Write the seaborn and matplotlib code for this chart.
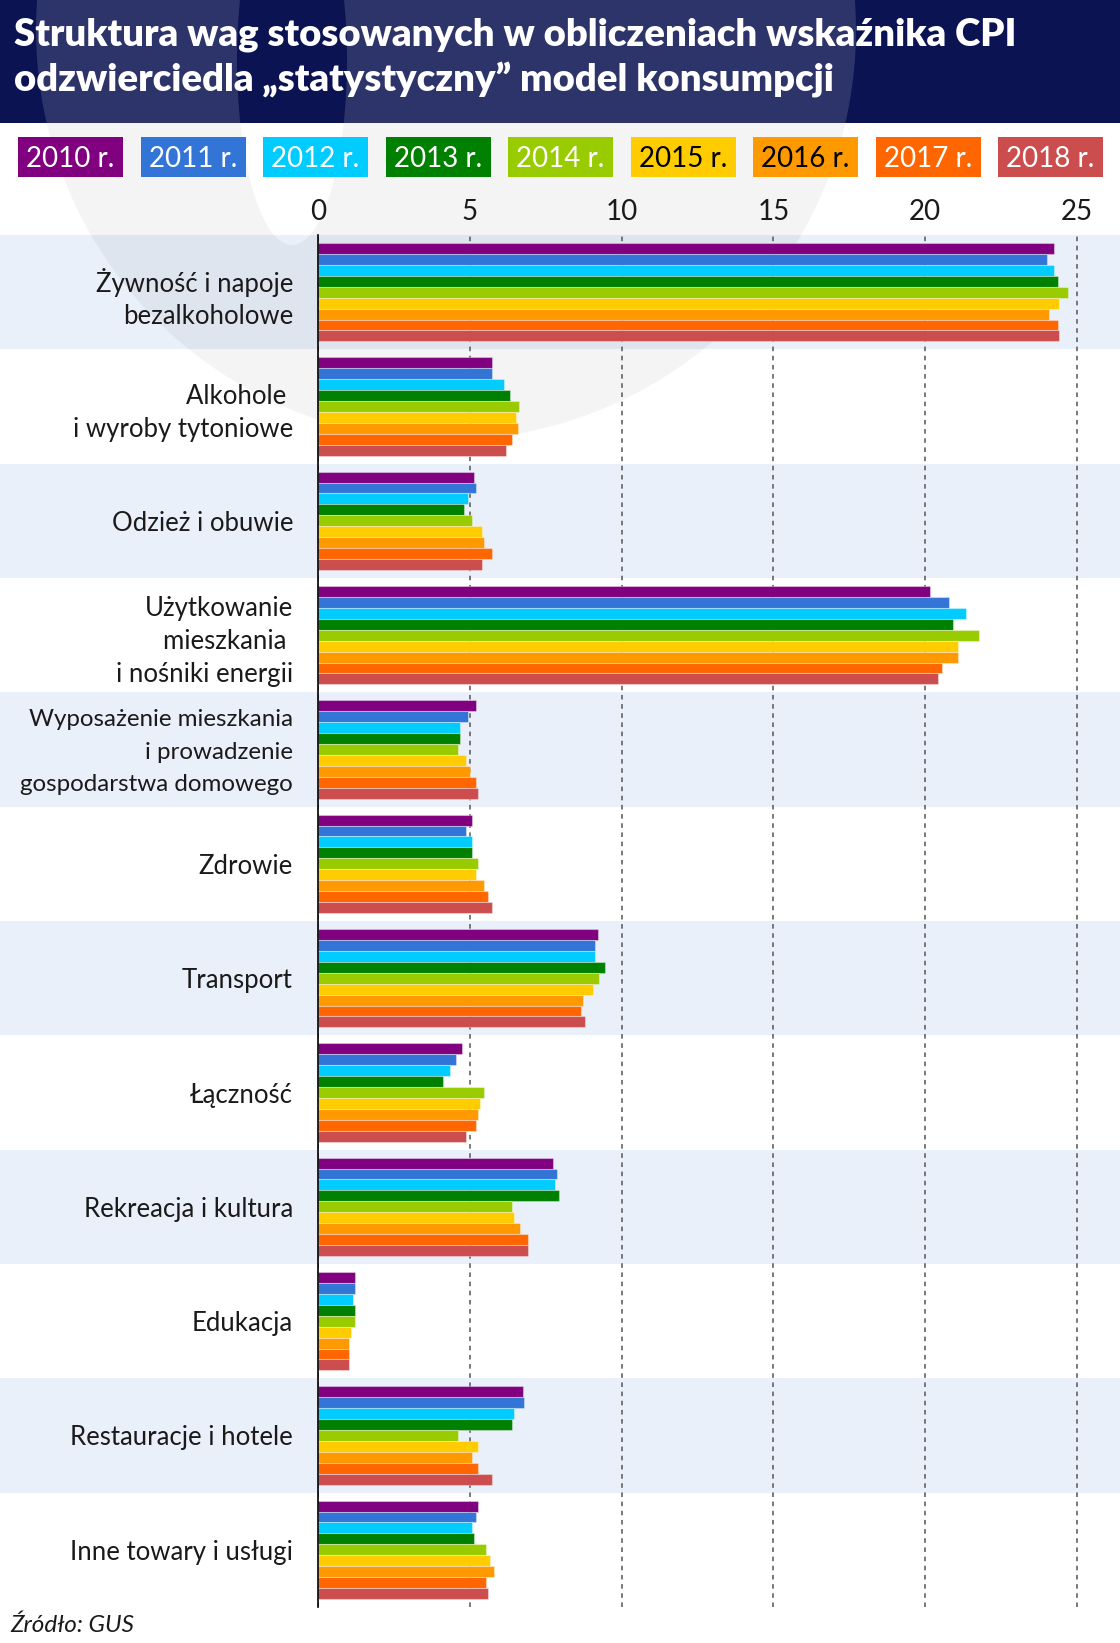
import numpy as np
import pandas as pd
import matplotlib
matplotlib.use("Agg")
import matplotlib.pyplot as plt
import matplotlib.patches as mpatches
import matplotlib.transforms as mtransforms
from matplotlib.path import Path
import seaborn as sns

# --- data (CPI weights, %) ---------------------------------------------------
CATEGORIES = [
    "Żywność i napoje\nbezalkoholowe",
    "Alkohole \ni wyroby tytoniowe",
    "Odzież i obuwie",
    "Użytkowanie\nmieszkania \ni nośniki energii",
    "Wyposażenie mieszkania\ni prowadzenie\ngospodarstwa domowego",
    "Zdrowie",
    "Transport",
    "Łączność",
    "Rekreacja i kultura",
    "Edukacja",
    "Restauracje i hotele",
    "Inne towary i usługi",
]
YEARS = ["2010 r.", "2011 r.", "2012 r.", "2013 r.", "2014 r.",
         "2015 r.", "2016 r.", "2017 r.", "2018 r."]

W2010 = [24.23, 5.73, 5.15, 20.17, 5.22, 5.08, 9.21, 4.75, 7.74, 1.21, 6.74, 5.27]
W2011 = [24.02, 5.73, 5.22, 20.78, 4.94, 4.87, 9.14, 4.54, 7.88, 1.21, 6.80, 5.22]
W2012 = [24.23, 6.13, 4.94, 21.36, 4.68, 5.08, 9.14, 4.35, 7.81, 1.14, 6.46, 5.08]
W2013 = [24.37, 6.34, 4.82, 20.92, 4.68, 5.08, 9.46, 4.13, 7.93, 1.21, 6.39, 5.15]
W2014 = [24.70, 6.61, 5.08, 21.78, 4.61, 5.27, 9.27, 5.47, 6.39, 1.21, 4.61, 5.54]
W2015 = [24.42, 6.53, 5.41, 21.09, 4.87, 5.22, 9.07, 5.34, 6.46, 1.09, 5.27, 5.66]
W2016 = [24.09, 6.60, 5.47, 21.09, 5.01, 5.47, 8.74, 5.27, 6.67, 1.02, 5.08, 5.80]
W2017 = [24.37, 6.39, 5.73, 20.57, 5.22, 5.60, 8.67, 5.22, 6.93, 1.02, 5.27, 5.54]
W2018 = [24.42, 6.20, 5.41, 20.43, 5.27, 5.73, 8.81, 4.87, 6.93, 1.02, 5.73, 5.60]
WEIGHTS = [W2010, W2011, W2012, W2013, W2014, W2015, W2016, W2017, W2018]

COLORS = ["#800080", "#3375d6", "#00ccff", "#008000", "#99cc00",
          "#ffcc00", "#ff9900", "#ff6600", "#cc4d4d"]
DARK_TEXT = {"2015 r.", "2016 r."}

TITLE_1 = "Struktura wag stosowanych w obliczeniach wskaźnika CPI"
TITLE_2 = "odzwierciedla „statystyczny” model konsumpcji"
SOURCE = "Źródło: GUS"

NAVY = "#0b1352"
BAND = "#e9f0fa"
TEXT = "#1a1a1a"

# --- figure ------------------------------------------------------------------
sns.set_style("white")
plt.rcParams["font.family"] = ["Lato", "DejaVu Sans"]

W, H = 1120, 1643
fig = plt.figure(figsize=(W / 100, H / 100), dpi=100)
fig.patch.set_facecolor("white")

# background layer in pixel coordinates
bg = fig.add_axes([0, 0, 1, 1], zorder=0)
bg.set_xlim(0, W)
bg.set_ylim(H, 0)
bg.axis("off")

# main chart
AX_L, AX_T, AX_B = 318, 235, 1607
ax = fig.add_axes([AX_L / W, 1 - AX_B / H, (W - AX_L) / W, (AX_B - AX_T) / H], zorder=2)
ax.set_facecolor("none")

df = pd.DataFrame({
    "Kategoria": np.tile(CATEGORIES, len(YEARS)),
    "Rok": np.repeat(YEARS, len(CATEGORIES)),
    "Waga": np.concatenate(WEIGHTS),
})

sns.barplot(data=df, y="Kategoria", x="Waga", hue="Rok",
            order=CATEGORIES, hue_order=YEARS, palette=COLORS,
            orient="h", width=0.862, saturation=1, errorbar=None,
            legend=False, edgecolor=(1, 1, 1, 0.35), linewidth=0.8, ax=ax)

ax.set_xlim(0, 26.42)
ax.set_ylim(len(CATEGORIES) - 0.5, -0.5)
ax.set_xlabel("")
ax.set_ylabel("")

# x axis on top, dashed grid
ax.xaxis.tick_top()
ax.set_xticks([0, 5, 10, 15, 20, 25])
ax.tick_params(axis="x", length=0, pad=7, labelsize=20, labelcolor=TEXT)
ax.grid(axis="x", linestyle=(0, (3, 3)), color="#555555", linewidth=1.1)
ax.grid(axis="y", visible=False)
ax.set_axisbelow(True)

# category labels + boundary ticks
ax.set_yticks(range(len(CATEGORIES)))
ax.set_yticklabels(CATEGORIES, fontsize=18.5, color=TEXT, linespacing=1.38)
ax.tick_params(axis="y", which="major", length=0, pad=18)
ax.set_yticks(np.arange(-0.5, len(CATEGORIES)), minor=True)
ax.tick_params(axis="y", which="minor", length=4, width=1.2, color="black", direction="out")

long_label = ax.get_yticklabels()[4]
long_label.set_fontsize(17.4)
long_label.set_linespacing(1.68)
long_label.set_transform(long_label.get_transform()
                         + mtransforms.ScaledTranslation(0, 0.05, fig.dpi_scale_trans))

for side in ["top", "right", "bottom"]:
    ax.spines[side].set_visible(False)
ax.spines["left"].set_color("black")
ax.spines["left"].set_linewidth(1.2)

# alternating row bands spanning the full width
blend = mtransforms.blended_transform_factory(bg.transAxes, ax.transData)
for i in range(0, len(CATEGORIES), 2):
    bg.add_patch(mpatches.Rectangle((0, i - 0.5), 1, 1, transform=blend,
                                    facecolor=BAND, edgecolor="none", zorder=0.5))

# watermark ring (logo)
t = np.linspace(0, 2 * np.pi, 240)
outer = np.c_[446 + 410 * np.cos(t), 30 + 410 * np.sin(t)]
inner = np.c_[292 + 55 * np.cos(-t), 60 + 185 * np.sin(-t)]
verts = np.r_[outer, inner]
codes = ([Path.MOVETO] + [Path.LINETO] * (len(t) - 2) + [Path.CLOSEPOLY]) * 2
ring = Path(verts, codes)
bg.add_patch(mpatches.PathPatch(ring, facecolor="black", alpha=0.045,
                                edgecolor="none", zorder=1))

# header
header = mpatches.Rectangle((0, 0), W, 123, facecolor=NAVY, edgecolor="none", zorder=2)
bg.add_patch(header)
ring_hdr = mpatches.PathPatch(ring, facecolor="white", alpha=0.14,
                              edgecolor="none", zorder=3)
bg.add_patch(ring_hdr)
ring_hdr.set_clip_path(header)

bg.text(14, 45, TITLE_1, color="white", fontsize=27.5, fontweight="heavy",
        ha="left", va="baseline", zorder=4)
bg.text(14, 92, TITLE_2, color="white", fontsize=27.5, fontweight="heavy",
        ha="left", va="baseline", zorder=4)

# legend boxes
for i, (yr, col) in enumerate(zip(YEARS, COLORS)):
    x0 = 18 + 122.5 * i
    bg.add_patch(mpatches.Rectangle((x0, 137), 105, 40, facecolor=col,
                                    edgecolor="none", zorder=4))
    bg.text(x0 + 52.5, 167, yr, ha="center", va="baseline", fontsize=20,
            color="black" if yr in DARK_TEXT else "white", zorder=5)

# source
bg.text(10, 1632, SOURCE, fontsize=17.5, fontstyle="italic", color=TEXT,
        ha="left", va="baseline", zorder=4)

fig.savefig("out.png", dpi=100)
